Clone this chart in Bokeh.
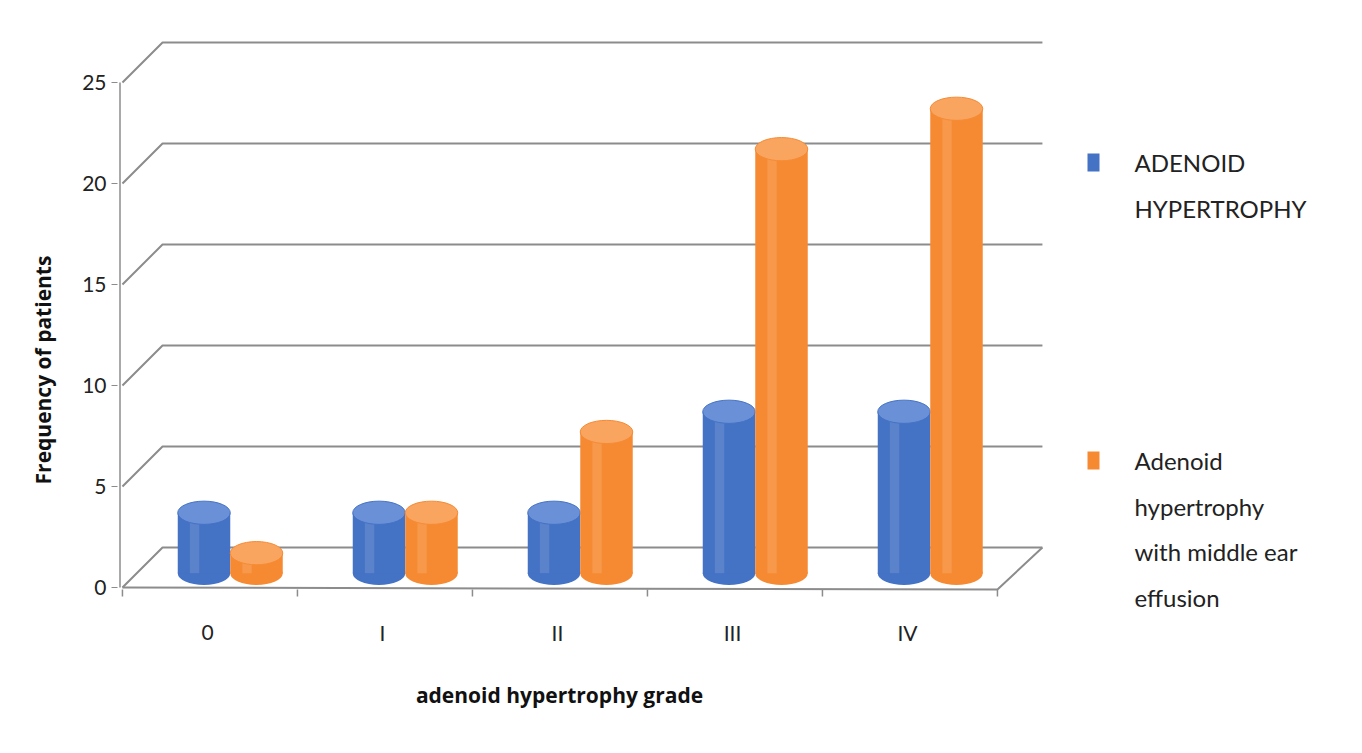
from bokeh.plotting import figure
from bokeh.models import FixedTicker
from bokeh.core.properties import value
from bokeh.embed import file_html
from bokeh.resources import INLINE

grades = ["0", "I", "II", "III", "IV"]
adenoid = [3, 3, 3, 8, 8]
effusion = [1, 3, 7, 21, 23]
yticks = [0, 5, 10, 15, 20, 25]
series1_lines = ["ADENOID", "HYPERTROPHY"]
series2_lines = ["Adenoid", "hypertrophy", "with middle ear", "effusion"]
x_title = "adenoid hypertrophy grade"
colors = ["#4472C4", "#F68A33"]
tops = ["#6A90D8", "#F9A560"]

FONT = "Lato"

def xd(px): return (px - 215) / 175
def yd(py): return (595 - py) / 20.2

p = figure(frame_width=1215, frame_height=695, min_border_left=117, min_border_top=22,
           min_border_right=4, min_border_bottom=6,
           x_range=(xd(125), xd(1340)), y_range=(yd(725), yd(30)),
           output_backend="svg", toolbar_location=None)
p.grid.visible = False
p.outline_line_color = None
p.xaxis.visible = False

dx, dy = 0.257, 1.98
for v in yticks:
    p.line([-0.486, -dx, 4.771], [v, v + dy, v + dy], line_color="#8c8c8c", line_width=2)
p.line([-0.486, 4.514, 4.771], [0, -0.1, dy], line_color="#8c8c8c", line_width=2)
p.line([-0.5, -0.5], [0, 25], line_color="#8c8c8c", line_width=1.5)
for i in range(6):
    xx = -0.486 + i
    p.line([xx, xx], [-0.1, -0.45], line_color="#8c8c8c", line_width=1.5)

base = 0.7
w = 0.30
ell_h = 1.15
for vals, off, c, t in [(adenoid, -0.02, colors[0], tops[0]), (effusion, 0.28, colors[1], tops[1])]:
    xs = [i + off for i in range(len(vals))]
    topy = [v + base for v in vals]
    p.ellipse(x=xs, y=[base] * len(xs), width=w, height=ell_h, fill_color=c, line_color=None)
    p.vbar(x=xs, bottom=base, top=topy, width=w, fill_color=c, line_color=None)
    p.vbar(x=[x - w * 0.18 for x in xs], bottom=base, top=topy, width=w * 0.18,
           fill_color="white", fill_alpha=0.12, line_color=None)
    p.ellipse(x=xs, y=topy, width=w, height=ell_h, fill_color=t, line_color=c, line_width=1)

# category labels and x title
p.text(x=list(range(len(grades))), y=[yd(640)] * len(grades), text=grades,
       text_font=value(FONT), text_font_size="21px", text_color="#222222",
       text_align="center", text_baseline="middle")
p.text(x=[xd(567)], y=[yd(702)], text=[x_title], text_font=value("Open Sans"),
       text_font_style="bold", text_font_size="21px", text_color="#111111",
       text_align="center", text_baseline="middle")

# legend
for lines, c, py in [(series1_lines, colors[0], 170), (series2_lines, colors[1], 468)]:
    p.rect(x=[xd(1101)], y=[yd(py)], width=12, height=18, width_units="screen",
           height_units="screen", fill_color=c, line_color=None)
    p.text(x=[xd(1142)] * len(lines), y=[yd(py + 45.5 * k) for k in range(len(lines))],
           text=lines, text_font=value(FONT), text_font_size="24px", text_color="#222222",
           text_baseline="middle")

p.yaxis.ticker = FixedTicker(ticks=yticks)
p.yaxis.axis_line_color = None
p.yaxis.major_tick_line_color = "#8c8c8c"
p.yaxis.minor_tick_line_color = None
p.yaxis.major_tick_out = 6
p.yaxis.major_tick_in = 0
p.yaxis.major_label_text_font = FONT
p.yaxis.major_label_text_font_size = "21px"
p.yaxis.major_label_text_color = "#222222"
p.yaxis.axis_label = "Frequency of patients"
p.yaxis.axis_label_text_font = "Open Sans"
p.yaxis.axis_label_text_font_style = "bold"
p.yaxis.axis_label_text_font_size = "21px"
p.yaxis.axis_label_text_color = "#111111"
p.yaxis.axis_label_standoff = 22

open("out.html", "w").write(file_html(p, INLINE))
